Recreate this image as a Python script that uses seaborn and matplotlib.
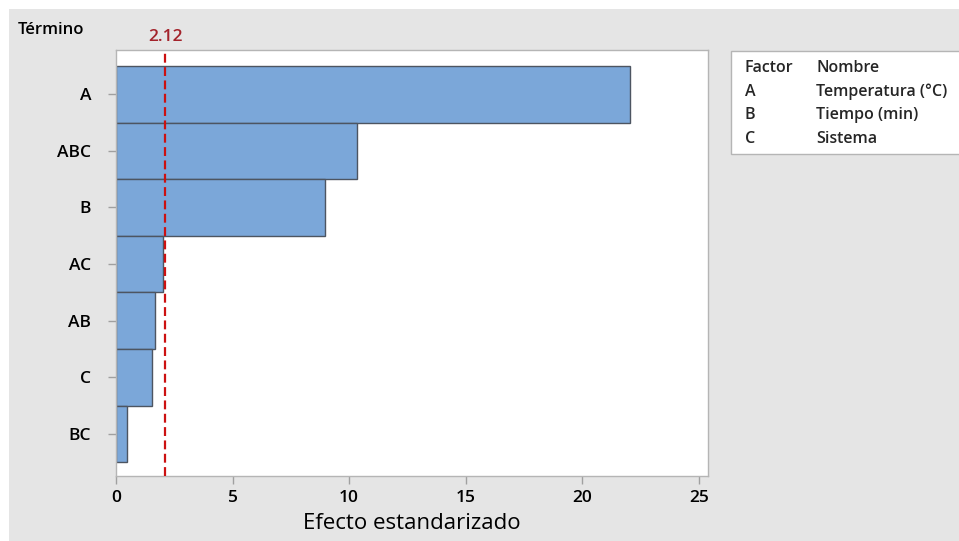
import matplotlib
matplotlib.use("Agg")
import matplotlib.pyplot as plt
from matplotlib.patches import Rectangle
import seaborn as sns
import pandas as pd

# Pareto of standardized effects
terms = ["A", "ABC", "B", "AC", "AB", "C", "BC"]
effects = [22.05, 10.35, 8.95, 2.0, 1.68, 1.53, 0.48]
critical = 2.12
x_ticks = [0, 5, 10, 15, 20, 25]

factor_codes = ["A", "B", "C"]
factor_names = ["Temperatura (°C)", "Tiempo (min)", "Sistema"]

sns.set_theme(style="white")
plt.rcParams["font.family"] = ["Open Sans", "DejaVu Sans"]

W, H = 959, 541
fig = plt.figure(figsize=(W / 100, H / 100), dpi=100, facecolor="white")

# grey panel behind everything
fig.patches.append(Rectangle((9 / W, 0), 1 - 9 / W, 1 - 9 / H, transform=fig.transFigure,
                             facecolor="#e5e5e5", edgecolor="none", zorder=-10))

ax = fig.add_axes([116 / W, 1 - 476 / H, (708 - 116) / W, (476 - 50) / H])
ax.set_zorder(2)
ax.set_facecolor("white")

df = pd.DataFrame({"Término": terms, "Efecto": effects})
sns.barplot(data=df, x="Efecto", y="Término", order=terms, orient="h", width=1.0,
            color="#7ba7d9", saturation=1, edgecolor="#4d5561", linewidth=1.0, ax=ax)

ax.set_xlim(0, 25.4)
ax.set_ylim(6.74, -0.78)
ax.set_xticks(x_ticks)
ax.set_xticklabels([str(t) for t in x_ticks])

ax.axvline(critical, color="#cc1111", linestyle=(0, (4, 2)), linewidth=1.6, zorder=5)
ax.text(critical, 1.012, f"{critical:.2f}", transform=ax.get_xaxis_transform(),
        ha="center", va="bottom", color="#a3232b", fontsize=12.5, fontweight="semibold")

for s in ax.spines.values():
    s.set_color("#b5b5b5")
    s.set_linewidth(1.0)

ax.tick_params(axis="both", which="both", length=6, width=1, color="#a0a0a0",
               labelsize=12.5, labelcolor="black", pad=4)
ax.tick_params(axis="y", pad=12)
ax.tick_params(left=True, bottom=True)
for lab in ax.get_yticklabels() + ax.get_xticklabels():
    lab.set_fontweight("semibold")
    lab.set_fontsize(12.5)

ax.set_ylabel("")
ax.set_xlabel("Efecto estandarizado", fontsize=16, labelpad=5, color="black")
fig.text(18 / W, 1 - 30 / H, "Término", ha="left", va="center", fontsize=12,
         fontweight="semibold", color="black")

# factor key box
fig.patches.append(Rectangle((731 / W, 1 - 154 / H), (959 - 731 + 5) / W, (154 - 51) / H,
                             transform=fig.transFigure, facecolor="white",
                             edgecolor="#b5b5b5", linewidth=1.0, zorder=1))
rows_y = [68, 92, 115, 139]
header = ("Factor", "Nombre")
fig.text(745 / W, 1 - rows_y[0] / H, header[0], ha="left", va="center", fontsize=11.5,
         fontweight="semibold", zorder=2)
fig.text(816 / W, 1 - rows_y[0] / H, header[1], ha="left", va="center", fontsize=11.5,
         fontweight="semibold", zorder=2)
for code, name, y in zip(factor_codes, factor_names, rows_y[1:]):
    fig.text(745 / W, 1 - y / H, code, ha="left", va="center", fontsize=11.5,
             fontweight="semibold", zorder=2)
    fig.text(816 / W, 1 - y / H, name, ha="left", va="center", fontsize=11.5,
             fontweight="semibold", zorder=2)

fig.savefig("out.png", dpi=100, facecolor=fig.get_facecolor())
